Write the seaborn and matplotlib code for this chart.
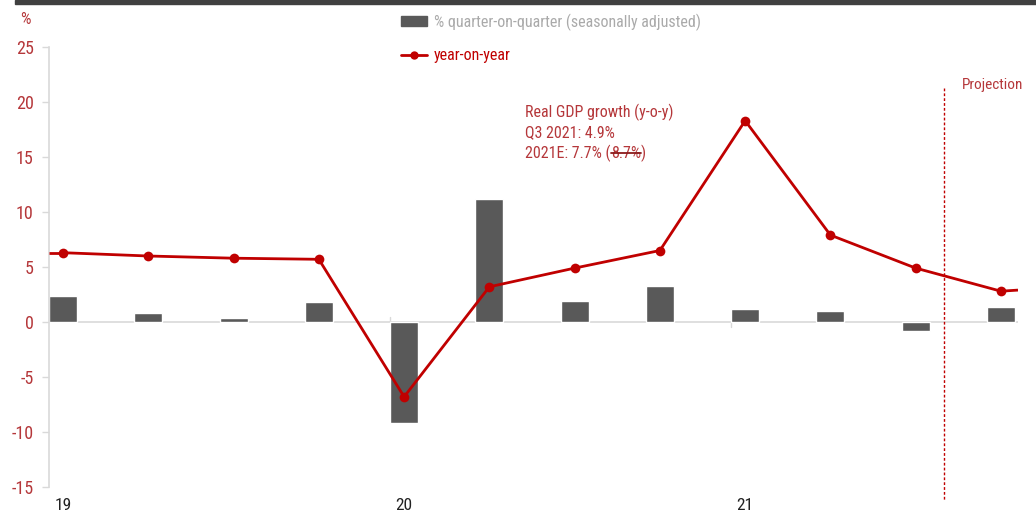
import matplotlib
matplotlib.use("Agg")
import matplotlib.pyplot as plt
import matplotlib.font_manager as fm
from matplotlib.patches import Patch, Rectangle
from matplotlib.lines import Line2D
import seaborn as sns
import pandas as pd
import numpy as np

quarters = ["Q1 19", "Q2 19", "Q3 19", "Q4 19", "Q1 20", "Q2 20", "Q3 20", "Q4 20",
            "Q1 21", "Q2 21", "Q3 21", "Q4 21"]
qoq = [2.4, 0.8, 0.4, 1.8, -9.2, 11.2, 1.9, 3.3, 1.2, 1.0, -0.8, 1.4]
yoy = [6.3, 6.0, 5.8, 5.7, -6.8, 3.2, 4.9, 6.5, 18.3, 7.9, 4.9, 2.8]
year_labels = ["19", "20", "21"]
y_ticks = [-15, -10, -5, 0, 5, 10, 15, 20, 25]

sns.set_theme(style="white")
names = {f.name for f in fm.fontManager.ttflist}
fam = [n for n in ["Roboto Condensed", "Liberation Sans Narrow", "Open Sans Condensed"] if n in names] + ["DejaVu Sans"]
plt.rcParams["font.family"] = fam

RED = "#c00000"
TXT = "#b5373a"
BAR = "#595959"

df = pd.DataFrame({"quarter": quarters, "qoq": qoq, "yoy": yoy})
df["pos"] = np.arange(len(df))

fig = plt.figure(figsize=(10.36, 5.15), dpi=100)
ax = fig.add_axes([49/1036, 28/515, 969/1036, 440/515])

sns.barplot(data=df, x="quarter", y="qoq", color=BAR, width=0.33, ax=ax,
            saturation=1, zorder=2)
x0, x1 = -0.165, 11.2
# line extends to axis edges with end values
ax.plot([x0, 0], [yoy[0], yoy[0]], color=RED, lw=2, zorder=3, solid_capstyle="butt")
ax.plot([11, x1], [yoy[-1], yoy[-1] + 0.1], color=RED, lw=2, zorder=3, solid_capstyle="butt")
sns.lineplot(data=df, x="pos", y="yoy", color=RED, lw=2, marker="o", markersize=7,
             markeredgewidth=0, ax=ax, zorder=4)

ax.set_xlim(x0, x1)
ax.set_ylim(-15, 25)
ax.axhline(0, color="#d9d9d9", lw=1.2, zorder=1)
for s in ["top", "right", "bottom"]:
    ax.spines[s].set_visible(False)
ax.spines["left"].set_color("#d9d9d9")
ax.spines["left"].set_linewidth(1.2)
ax.set_yticks(y_ticks)
ax.set_yticklabels([str(v) for v in y_ticks])
ax.tick_params(axis="y", colors="#d9d9d9", labelcolor=TXT, labelsize=13, length=5, width=1, left=True, pad=6)
ax.set_xticks([0, 4, 8])
ax.set_xticklabels(year_labels)
ax.tick_params(axis="x", length=0, labelsize=12.5, labelcolor="#222222", pad=8)
ax.set_xlabel("")
ax.set_ylabel("")
ax.grid(False)

# year boundary ticks on zero line
ax.plot([3.83, 3.83], [0, 0.45], color="#d9d9d9", lw=1, zorder=1)
ax.plot([7.83, 7.83], [0, -0.45], color="#d9d9d9", lw=1, zorder=1)

# projection line
ax.plot([10.33, 10.33], [21.3, -16.2], color=RED, lw=1, ls=(0, (2, 1.5)), clip_on=False, zorder=5)
ax.text(11.26, 20.9, "Projection", color=TXT, fontsize=11, ha="right", va="bottom")

# annotation
fs = 11.5
tx, ty = 5.42, 19.1
ax.text(tx, ty, "Real GDP growth (y-o-y)", color=TXT, fontsize=fs, va="center")
ax.text(tx, ty - 1.9, "Q3 2021: 4.9%", color=TXT, fontsize=fs, va="center")
fig.canvas.draw()
r = fig.canvas.get_renderer()
t1 = ax.text(tx, ty - 3.8, "2021E: 7.7% (", color=TXT, fontsize=fs, va="center")
bb = t1.get_window_extent(r)
inv = ax.transData.inverted()
xa = inv.transform((bb.x1, bb.y0))[0]
t2 = ax.text(xa, ty - 3.8, "8.7%", color=TXT, fontsize=fs, va="center")
bb2 = t2.get_window_extent(r)
xb = inv.transform((bb2.x1, bb2.y0))[0]
ax.text(xb, ty - 3.8, ")", color=TXT, fontsize=fs, va="center")
ax.plot([xa, xb], [ty - 3.75, ty - 3.75], color="#8b1a1a", lw=1.3, zorder=6)

# % label
fig.text(25/1036, 1 - 20/515, "%", color=TXT, fontsize=12, ha="center", va="center")

# top dark bar
fig.patches.append(Rectangle((15/1036, 1 - 4/515), 1, 4/515, transform=fig.transFigure,
                             color="#404040", zorder=10))

handles = [Patch(facecolor=BAR, edgecolor=BAR),
           Line2D([0], [0], color=RED, lw=2, marker="o", markersize=6, markeredgewidth=0)]
leg = fig.legend(handles, ["% quarter-on-quarter (seasonally adjusted)", "year-on-year"],
                 loc="upper left", bbox_to_anchor=(395/1036, 1 - 7/515), frameon=False,
                 fontsize=11.5, handlelength=1.6, handleheight=0.6, handletextpad=0.45,
                 labelspacing=1.1, labelcolor=["#aaaaaa", RED], borderaxespad=0)

fig.savefig("out.png", dpi=100)
